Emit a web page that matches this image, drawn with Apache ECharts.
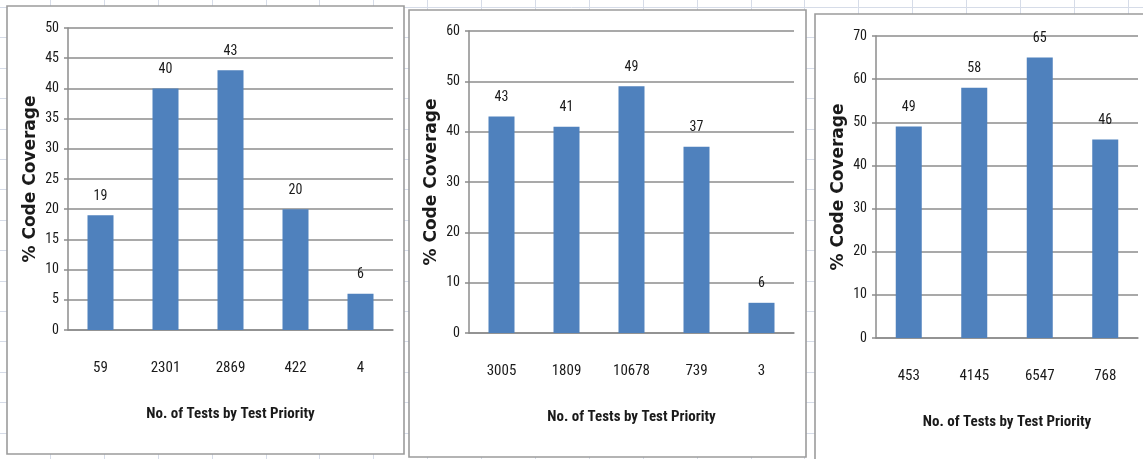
<!DOCTYPE html>
<html>
<head>
<meta charset="utf-8">
<title>% Code Coverage by Test Priority</title>
<script src="https://cdn.jsdelivr.net/npm/echarts@6/dist/echarts.min.js"></script>
<style>
  html, body { margin: 0; padding: 0; background: #ffffff; }
  #chart { width: 1143px; height: 459px; }
</style>
</head>
<body>
<div id="chart"></div>
<script>
// Number of tests per priority level (category labels) and the code coverage each reaches
const testsRunA = ['59', '2301', '2869', '422', '4'];
const coverageA = [19, 40, 43, 20, 6];

const testsRunB = ['3005', '1809', '10678', '739', '3'];
const coverageB = [43, 41, 49, 37, 6];

const testsRunC = ['453', '4145', '6547', '768'];
const coverageC = [49, 58, 65, 46];

// Value-axis ranges: [max, step]
const yRangeA = [50, 5];
const yRangeB = [60, 10];
const yRangeC = [70, 10];

const xTitle = 'No. of Tests by Test Priority';
const yTitle = '% Code Coverage';

const NARROW = '"Liberation Sans Narrow", "Arial Narrow", "Roboto Condensed", "Liberation Sans", sans-serif';
const WIDE = '"DejaVu Sans", Verdana, sans-serif';
const TEXT = '#1a1a1a';
const RULE = '#8c8c8c';
const BAR = '#4f81bd';

const panels = [
  { cats: testsRunA, vals: coverageA, range: yRangeA, grid: { left: 68, top: 28, width: 325, height: 302 } },
  { cats: testsRunB, vals: coverageB, range: yRangeB, grid: { left: 469, top: 31, width: 325, height: 302 } },
  { cats: testsRunC, vals: coverageC, range: yRangeC, grid: { left: 876, top: 36, width: 262, height: 302 } }
];

// Spreadsheet cell lines behind the chart frames
const backdrop = [];
for (let x = 50 - 54; x < 1160; x += 53.9) {
  backdrop.push({ type: 'line', z: -20, silent: true,
    shape: { x1: Math.round(x) + 0.5, y1: 0, x2: Math.round(x) + 0.5, y2: 459 },
    style: { stroke: '#d6dce8', lineWidth: 1 } });
}
for (let y = 7; y < 470; y += 30.4) {
  backdrop.push({ type: 'line', z: -20, silent: true,
    shape: { x1: 0, y1: Math.round(y) + 0.5, x2: 1143, y2: Math.round(y) + 0.5 },
    style: { stroke: '#d6dce8', lineWidth: 1 } });
}
// Chart frames
const frames = [
  { x: 7, y: 6, width: 397, height: 448 },
  { x: 409, y: 10, width: 397, height: 447 },
  { x: 815, y: 14, width: 340, height: 460 }
].map(s => ({ type: 'rect', z: -10, silent: true,
  shape: s, style: { fill: '#ffffff', stroke: '#9c9c9c', lineWidth: 1.6 } }));

const option = {
  animation: false,
  backgroundColor: '#ffffff',
  graphic: { elements: backdrop.concat(frames) },
  grid: panels.map(p => Object.assign({ containLabel: false }, p.grid)),
  xAxis: panels.map((p, i) => ({
    type: 'category',
    gridIndex: i,
    data: p.cats,
    name: xTitle,
    nameLocation: 'middle',
    nameGap: 77,
    nameTextStyle: { fontFamily: NARROW, fontWeight: 'bold', fontSize: 15, color: TEXT },
    axisLine: { show: true, lineStyle: { color: RULE, width: 1.5 } },
    axisTick: { show: false },
    axisLabel: { margin: 31, fontFamily: NARROW, fontSize: 15, color: TEXT }
  })),
  yAxis: panels.map((p, i) => ({
    type: 'value',
    gridIndex: i,
    min: 0,
    max: p.range[0],
    interval: p.range[1],
    name: yTitle,
    nameLocation: 'middle',
    nameRotate: 90,
    nameGap: 29,
    nameTextStyle: { fontFamily: WIDE, fontWeight: 'bold', fontSize: 17, color: TEXT },
    axisLine: { show: true, lineStyle: { color: RULE, width: 1.5 } },
    axisTick: { show: true, length: 4, lineStyle: { color: RULE, width: 1.5 } },
    splitLine: { show: true, lineStyle: { color: RULE, width: 1.5 } },
    axisLabel: { margin: 9, fontFamily: NARROW, fontSize: 14, color: TEXT }
  })),
  series: panels.map((p, i) => ({
    type: 'bar',
    xAxisIndex: i,
    yAxisIndex: i,
    data: p.vals,
    barWidth: 26,
    itemStyle: { color: BAR },
    label: {
      show: true,
      position: 'top',
      distance: 12,
      fontFamily: NARROW,
      fontSize: 14,
      color: TEXT
    }
  }))
};

const chart = echarts.init(document.getElementById('chart'), null, { renderer: 'canvas' });
chart.setOption(option);
</script>
</body>
</html>
